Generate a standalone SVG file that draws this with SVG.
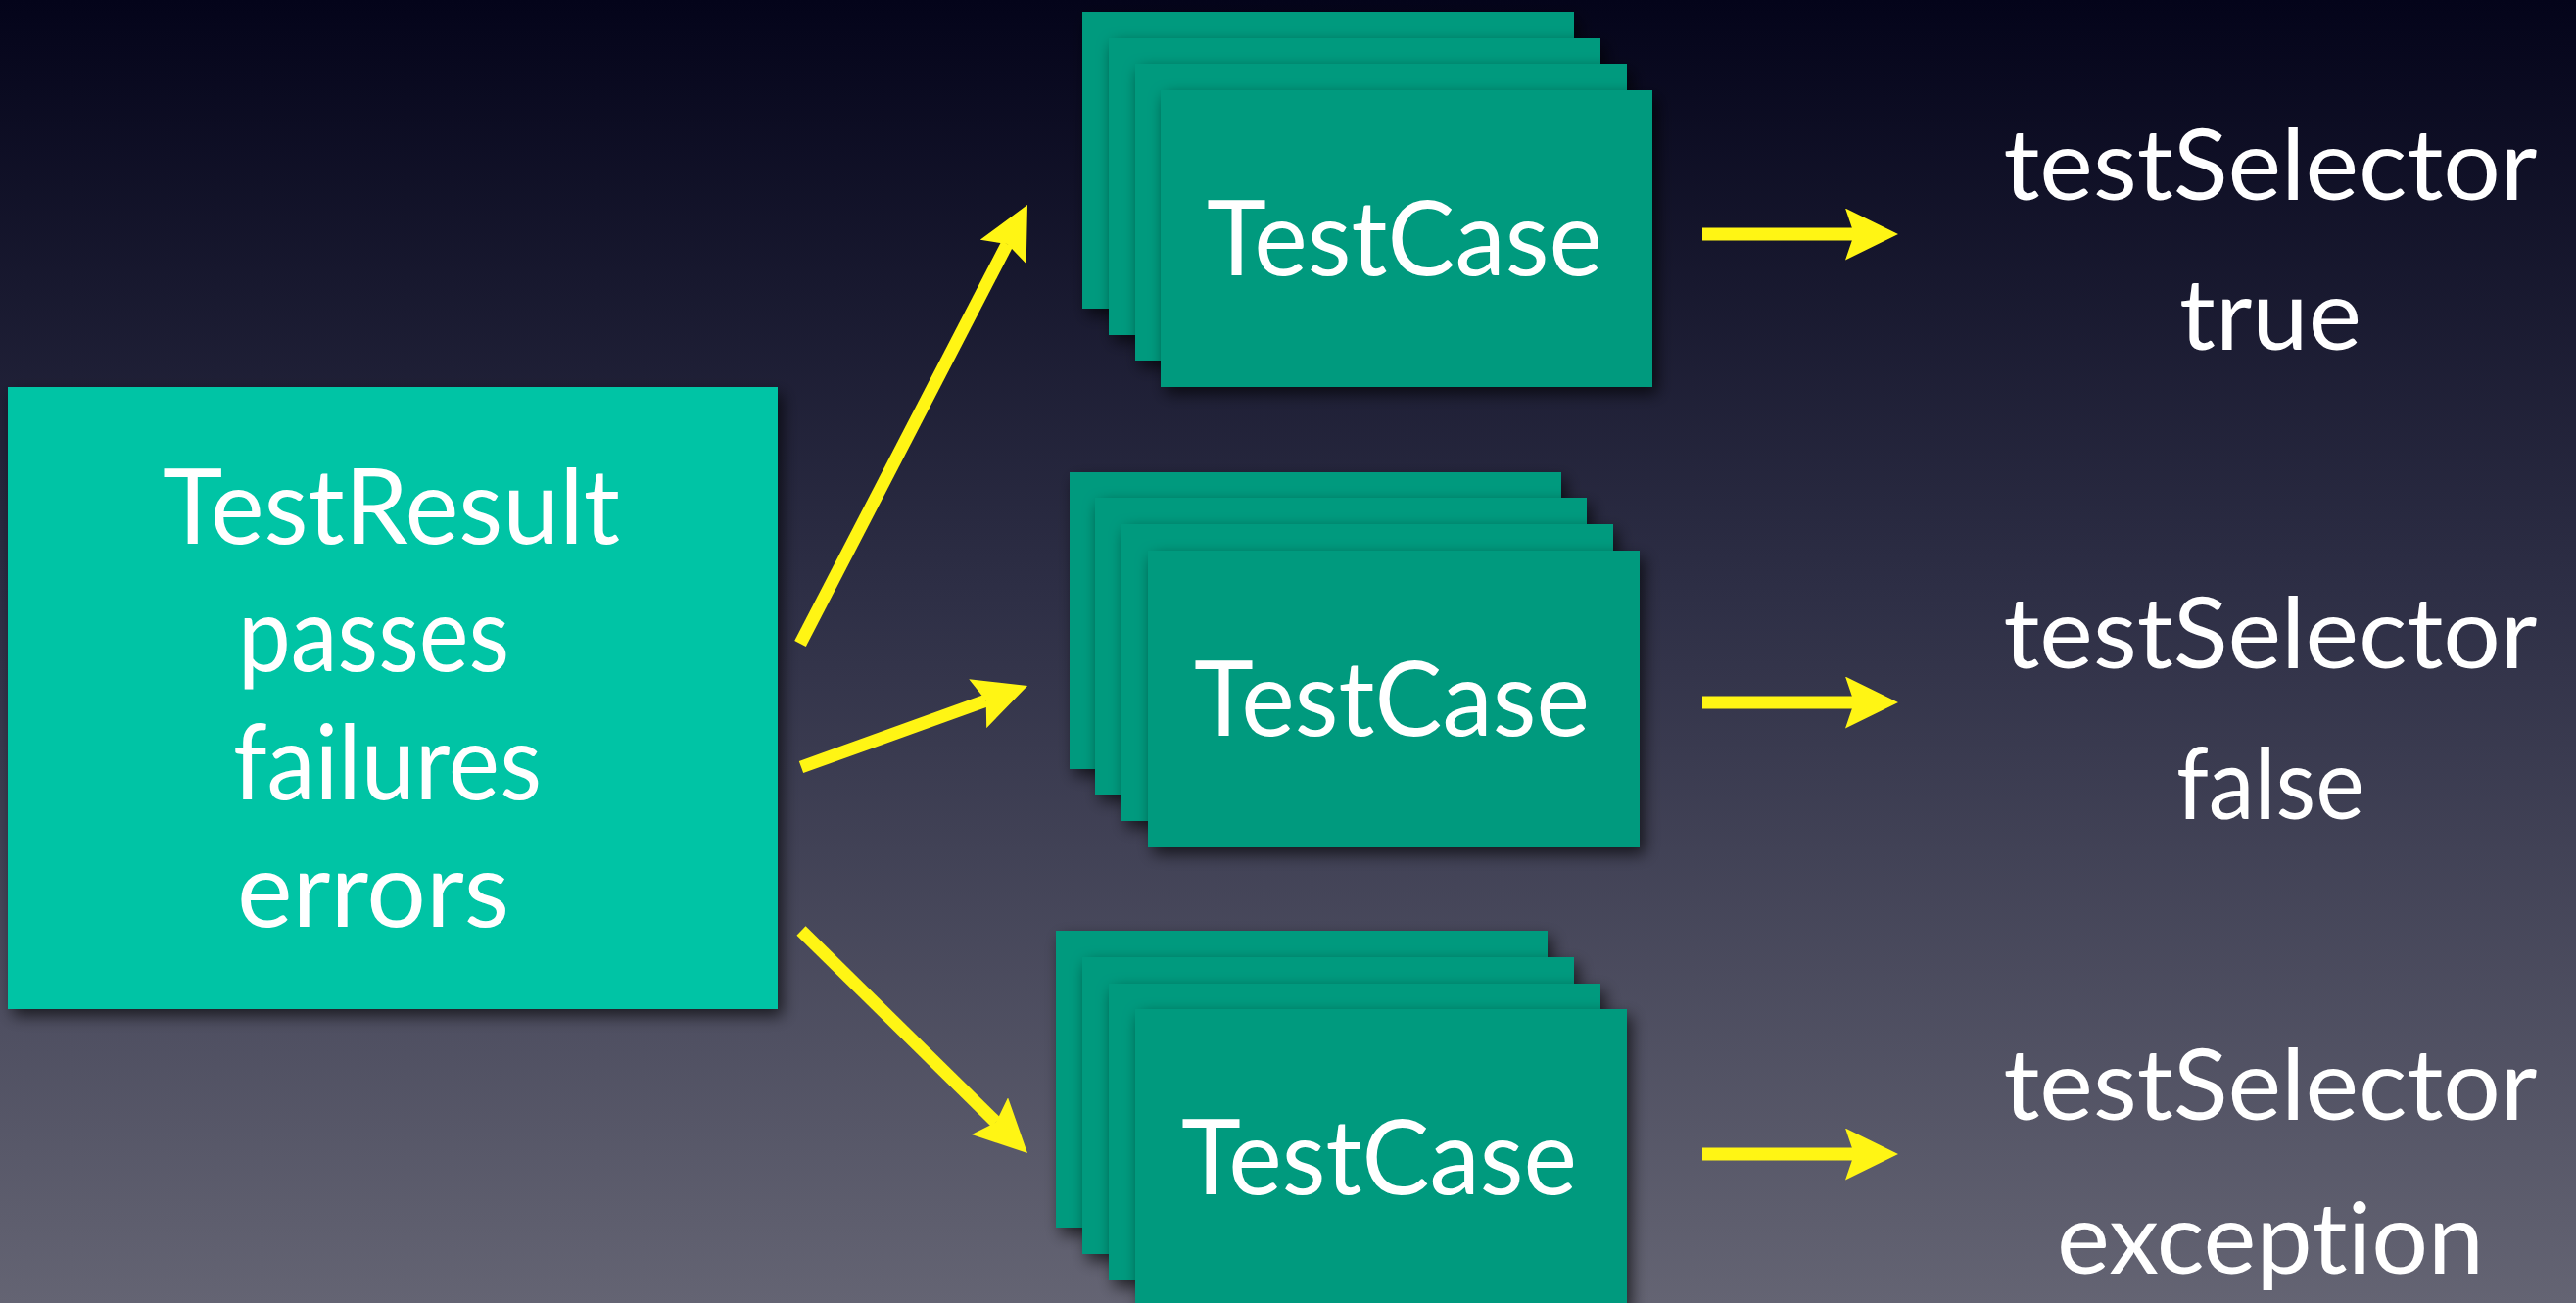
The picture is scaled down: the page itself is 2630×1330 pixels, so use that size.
<svg xmlns="http://www.w3.org/2000/svg" width="2630" height="1330" viewBox="0 0 2630 1330">
  <defs>
    <linearGradient id="bg" x1="0" y1="0" x2="0" y2="1">
      <stop offset="0" stop-color="#04041a"/>
      <stop offset="0.45" stop-color="#2d2e45"/>
      <stop offset="1" stop-color="#646473"/>
    </linearGradient>
    <filter id="shadow" x="-10%" y="-10%" width="125%" height="130%">
      <feDropShadow dx="5" dy="7" stdDeviation="8" flood-color="#000000" flood-opacity="0.65"/>
    </filter>
    <marker id="head" viewBox="0 0 54 53" refX="9" refY="26.5" markerWidth="54" markerHeight="53" markerUnits="userSpaceOnUse" orient="auto">
      <path d="M0,0 L54,26.5 L0,53 L9,26.5 Z" fill="#fff514"/>
    </marker>
    <style>
      .lbl { font-family: Lato, "Noto Sans", "Liberation Sans", sans-serif; fill: #ffffff; font-variant-ligatures: none; font-feature-settings: "liga" 0, "clig" 0; }
      .big { font-size: 106px; }
      .side { font-size: 100px; }
      .card { fill: #029a7e; filter: url(#shadow); }
      .result { fill: #03c4a5; filter: url(#shadow); }
      .arrow { stroke: #fff514; stroke-width: 13; fill: none; marker-end: url(#head); }
    </style>
  </defs>

  <rect x="0" y="0" width="2630" height="1330" fill="url(#bg)"/>

  <g id="test-result">
    <rect class="result" x="8" y="395" width="786" height="635"/>
    <text class="lbl big" x="166" y="555" textLength="467" lengthAdjust="spacingAndGlyphs">TestResult</text>
    <text class="lbl big" x="243" y="685" textLength="277" lengthAdjust="spacingAndGlyphs">passes</text>
    <text class="lbl big" x="238" y="816" textLength="315" lengthAdjust="spacingAndGlyphs">failures</text>
    <text class="lbl big" x="242" y="946" textLength="278" lengthAdjust="spacingAndGlyphs">errors</text>
  </g>

  <g id="testcase-1">
    <rect class="card" x="1105" y="12" width="502" height="303"/>
    <rect class="card" x="1132" y="39" width="502" height="303"/>
    <rect class="card" x="1159" y="65" width="502" height="303"/>
    <rect class="card" x="1185" y="92" width="502" height="303"/>
    <text class="lbl big" x="1434" y="281" text-anchor="middle" textLength="404" lengthAdjust="spacingAndGlyphs">TestCase</text>
  </g>

  <g id="testcase-2">
    <rect class="card" x="1092" y="482" width="502" height="303"/>
    <rect class="card" x="1118" y="508" width="502" height="303"/>
    <rect class="card" x="1145" y="535" width="502" height="303"/>
    <rect class="card" x="1172" y="562" width="502" height="303"/>
    <text class="lbl big" x="1421" y="751" text-anchor="middle" textLength="404" lengthAdjust="spacingAndGlyphs">TestCase</text>
  </g>

  <g id="testcase-3">
    <rect class="card" x="1078" y="950" width="502" height="303"/>
    <rect class="card" x="1105" y="977" width="502" height="303"/>
    <rect class="card" x="1132" y="1004" width="502" height="303"/>
    <rect class="card" x="1159" y="1030" width="502" height="303"/>
    <text class="lbl big" x="1408" y="1219" text-anchor="middle" textLength="404" lengthAdjust="spacingAndGlyphs">TestCase</text>
  </g>

  <g id="result-true">
    <text class="lbl side" x="2318" y="204" text-anchor="middle" textLength="545" lengthAdjust="spacingAndGlyphs">testSelector</text>
    <text class="lbl side" x="2318" y="357" text-anchor="middle" textLength="186" lengthAdjust="spacingAndGlyphs">true</text>
  </g>

  <g id="result-false">
    <text class="lbl side" x="2318" y="682" text-anchor="middle" textLength="545" lengthAdjust="spacingAndGlyphs">testSelector</text>
    <text class="lbl side" x="2318" y="836" text-anchor="middle" textLength="192" lengthAdjust="spacingAndGlyphs">false</text>
  </g>

  <g id="result-exception">
    <text class="lbl side" x="2318" y="1143" text-anchor="middle" textLength="545" lengthAdjust="spacingAndGlyphs">testSelector</text>
    <text class="lbl side" x="2318" y="1300" text-anchor="middle" textLength="436" lengthAdjust="spacingAndGlyphs">exception</text>
  </g>

  <g id="connectors">
    <line class="arrow" x1="817" y1="657" x2="1028.3" y2="249"/>
    <line class="arrow" x1="818" y1="783" x2="1006.7" y2="715.2"/>
    <line class="arrow" x1="818" y1="950" x2="1016.9" y2="1145.5"/>
    <line class="arrow" x1="1738" y1="239" x2="1893" y2="239"/>
    <line class="arrow" x1="1738" y1="717" x2="1893" y2="717"/>
    <line class="arrow" x1="1738" y1="1178" x2="1893" y2="1178"/>
  </g>
</svg>
